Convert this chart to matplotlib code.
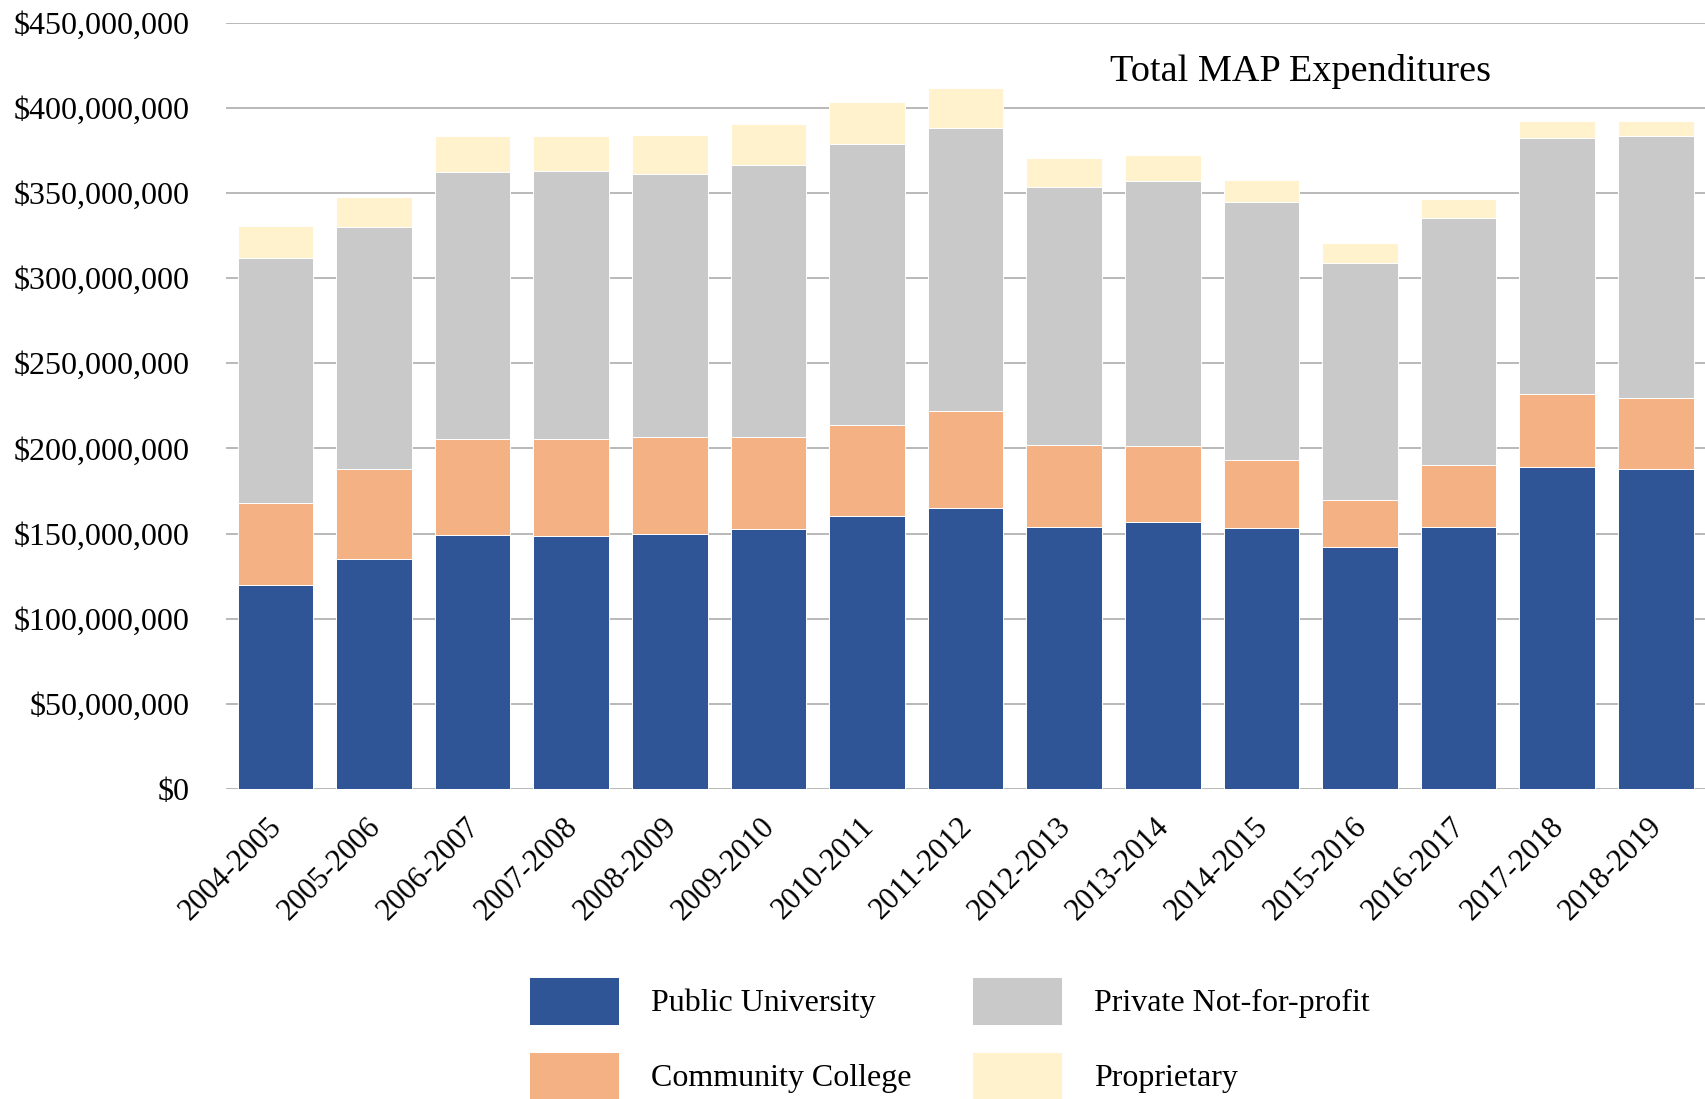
import matplotlib.pyplot as plt
from matplotlib.ticker import FuncFormatter
from matplotlib.transforms import ScaledTranslation

plt.rcParams['font.family'] = ['Liberation Serif', 'DejaVu Serif']

years = ['2004-2005', '2005-2006', '2006-2007', '2007-2008', '2008-2009',
         '2009-2010', '2010-2011', '2011-2012', '2012-2013', '2013-2014',
         '2014-2015', '2015-2016', '2016-2017', '2017-2018', '2018-2019']

# values in millions of dollars
public_univ = [120.0, 135.3, 149.4, 148.7, 150.0, 152.5, 160.2, 165.3,
               153.8, 157.0, 153.2, 142.3, 153.8, 188.9, 187.7]
community = [47.9, 52.4, 56.1, 56.8, 56.8, 54.3, 53.6, 56.8,
             48.5, 44.7, 40.2, 27.5, 36.4, 42.8, 42.1]
private_nfp = [144.1, 142.3, 157.1, 157.7, 154.5, 159.6, 164.7, 166.0,
               151.3, 155.1, 151.3, 139.1, 144.9, 150.6, 153.8]
proprietary = [18.6, 17.9, 21.0, 20.4, 23.0, 24.2, 24.9, 23.6,
               17.2, 15.3, 12.7, 11.5, 11.5, 10.2, 8.9]

scale = 1e6
public_univ = [v * scale for v in public_univ]
community = [v * scale for v in community]
private_nfp = [v * scale for v in private_nfp]
proprietary = [v * scale for v in proprietary]

colors = ['#2F5597', '#F4B183', '#C9C9C9', '#FFF2CC']
labels = ['Public University', 'Community College', 'Private Not-for-profit', 'Proprietary']

fig = plt.figure(figsize=(17.05, 10.99), dpi=100)
ax = fig.add_axes([0.1326, 0.2821, 0.8674, 0.6972])

x = range(len(years))
w = 0.767
bottom = [0] * len(years)
bars = []
for vals, c, lab in zip([public_univ, community, private_nfp, proprietary], colors, labels):
    b = ax.bar(x, vals, w, bottom=bottom, color=c, edgecolor='white', linewidth=0.7,
               label=lab, zorder=3)
    bars.append(b)
    bottom = [bo + v for bo, v in zip(bottom, vals)]

ax.set_xlim(-0.5, len(years) - 0.5)
ax.set_ylim(0, 450e6)
ax.set_yticks([i * 50e6 for i in range(10)])
ax.yaxis.set_major_formatter(FuncFormatter(lambda v, p: '${:,.0f}'.format(v)))
ax.grid(axis='y', color='#A6A6A6', linewidth=1.1, zorder=0)
for s in ax.spines.values():
    s.set_visible(False)
ax.tick_params(axis='y', length=0, pad=26, labelsize=23)
ax.tick_params(axis='x', length=0, pad=16.6, labelsize=22)
ax.set_xticks(list(x))
ax.set_xticklabels(years, rotation=45, ha='right', rotation_mode='anchor')
shift = ScaledTranslation(-8 / 100, 0, fig.dpi_scale_trans)
for lbl in ax.get_xticklabels():
    lbl.set_transform(lbl.get_transform() + shift)

ax.text(0.7266, 0.937, 'Total MAP Expenditures', transform=ax.transAxes,
        ha='center', va='center', fontsize=27.5)

# legend order: column 1 Public, Community; column 2 Private, Proprietary
fig.legend(bars, labels, loc='center', bbox_to_anchor=(0.557, 0.0553), ncol=2,
           frameon=False, fontsize=23, handlelength=2.82, handleheight=1.94,
           handletextpad=1.0, columnspacing=1.9, labelspacing=0.85, borderpad=0)

fig.savefig('out.png', dpi=100)
